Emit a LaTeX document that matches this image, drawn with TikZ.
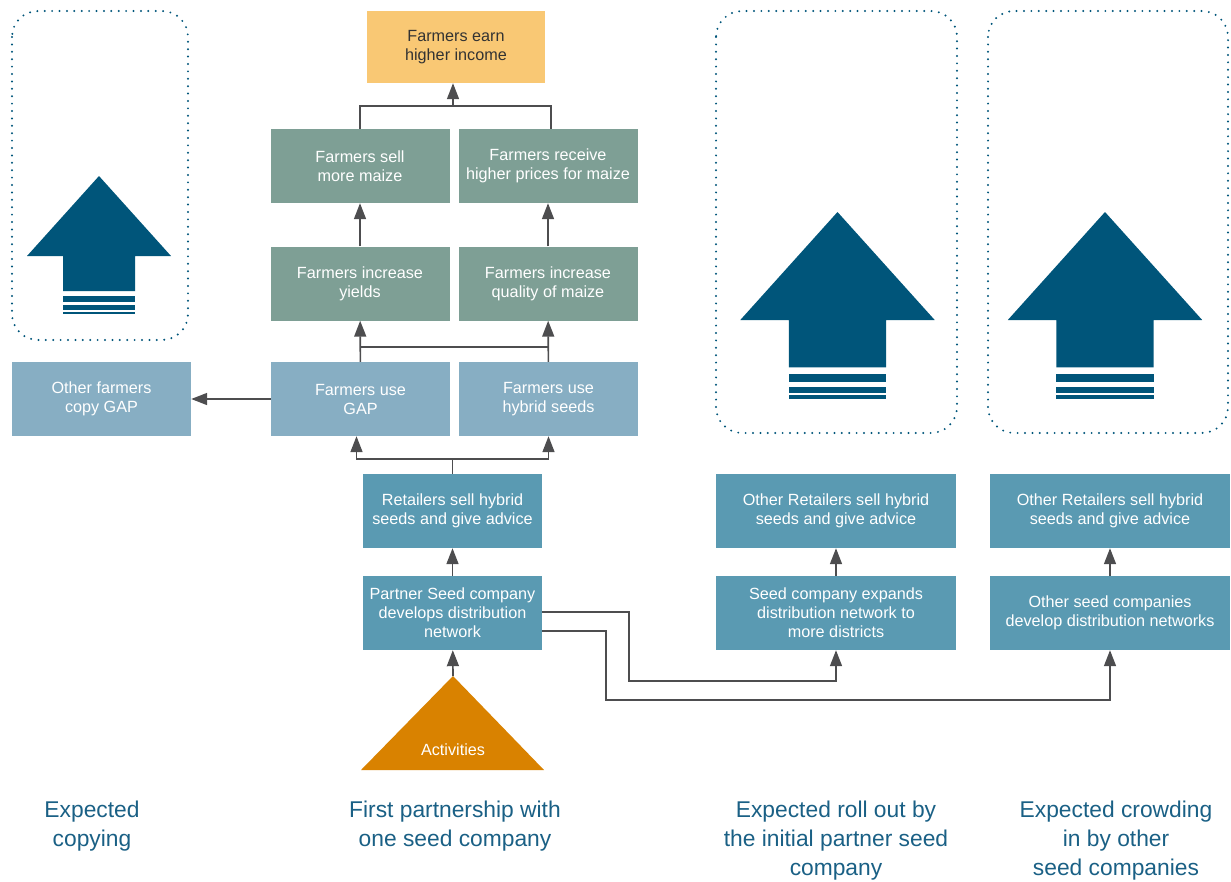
\documentclass[tikz,border=0pt]{standalone}
\usepackage{fontspec}
\setmainfont{Liberation Sans}
\usetikzlibrary{arrows.meta}

\definecolor{incomeorange}{HTML}{F9C874}
\definecolor{resultgreen}{HTML}{7E9F95}
\definecolor{practiceblue}{HTML}{87AEC3}
\definecolor{seedblue}{HTML}{5A9AB2}
\definecolor{activorange}{HTML}{D98200}
\definecolor{bigblue}{HTML}{00557A}
\definecolor{captionblue}{HTML}{1A6085}
\definecolor{linkgray}{HTML}{4D4D4F}

\newcommand{\bigarrow}[3]{ 

% #1 = centre x, #2 = tip y, #3 = size
\begin{scope}[shift={(#1,#2)},scale=#3]
    \fill[bigblue] (0,0) -- (72,80) -- (36,80) -- (36,115) -- (-36,115) -- (-36,80) -- (-72,80) -- cycle;
    \foreach \a/\b in {119.7/125.7,129.3/134.3,135.7/138.3}{
        \fill[bigblue] (-36,\a) rectangle (36,\b);
    }
\end{scope}

}

\newcommand{\scenebox}[4]{ 
\draw[dotframe] (#1,#2) rectangle (#3,#4);
}

\begin{document}
\begin{tikzpicture}[x=1pt,y=-1pt,
    box/.style={minimum width=179pt,minimum height=74pt,inner sep=2pt,align=center,
        text=white,font=\fontsize{16.2}{19}\selectfont},
    incomebox/.style={box,fill=incomeorange,text=black!80,minimum width=178pt,minimum height=72pt},
    resultbox/.style={box,fill=resultgreen},
    practicebox/.style={box,fill=practiceblue},
    seedbox/.style={box,fill=seedblue},
    widebox/.style={seedbox,minimum width=240pt},
    caption/.style={align=center,text=captionblue,font=\fontsize{22.8}{29}\selectfont},
    dotframe/.style={draw=bigblue,line width=2.2pt,line cap=round,
        dash pattern=on 0pt off 7.4pt,rounded corners=26pt},
    link/.style={draw=linkgray,line width=1.6pt},
    arr/.style={link,-{Triangle[width=12pt,length=16pt]}}]

\useasboundingbox (0,0) rectangle (1231,881);

\scenebox{12}{11}{188}{340}
\scenebox{716}{11}{957}{433}
\scenebox{988}{11}{1228}{433}

\bigarrow{99}{176}{1}
\bigarrow{837.5}{212}{1.35}
\bigarrow{1105}{212}{1.35}

\node[incomebox] (income) at (456,47) {Farmers earn\\higher income};

\node[resultbox] (sell) at (360,166) {Farmers sell\\more maize};
\node[resultbox] (prices) at (548,166) {Farmers receive\\higher prices for maize};
\node[resultbox] (yields) at (360,283.5) {Farmers increase\\yields};
\node[resultbox] (quality) at (548,283.5) {Farmers increase\\quality of maize};

\node[practicebox] (gap) at (360.5,399) {Farmers use\\GAP};
\node[practicebox] (hybrid) at (548.5,399) {Farmers use\\hybrid seeds};
\node[practicebox] (copy) at (101.5,399) {Other farmers\\copy GAP};

\node[seedbox] (retail) at (452.5,511) {Retailers sell hybrid\\seeds and give advice};
\node[seedbox] (partner) at (452.5,613) {Partner Seed company\\develops distribution\\network};

\node[widebox] (rollretail) at (836,511) {Other Retailers sell hybrid\\seeds and give advice};
\node[widebox] (expand) at (836,613) {Seed company expands\\distribution network to\\more districts};
\node[widebox] (crowdretail) at (1110,511) {Other Retailers sell hybrid\\seeds and give advice};
\node[widebox] (others) at (1110,613) {Other seed companies\\develop distribution networks};

\fill[activorange] (361,770) -- (453,676) -- (544,770) -- cycle;
\coordinate (apex) at (453,676);
\node[box,minimum width=0pt,minimum height=0pt] (activities) at (453,750) {Activities};

\node[caption] (copycap) at (92,826.5) {Expected\\copying};
\node[caption] (firstcap) at (455,826.5) {First partnership with\\one seed company};
\node[caption] (rollcap) at (836,841) {Expected roll out by\\the initial partner seed\\company};
\node[caption] (crowdcap) at (1116,841) {Expected crowding\\in by other\\seed companies};

% links
\coordinate (join1) at (453,106);
\draw[link] (sell.north) |- (join1) -| ([xshift=3pt]prices.north);
\draw[arr] (join1) -- (join1 |- income.south);

\draw[arr] (yields) -- (sell);
\draw[arr] (quality) -- (prices);

\draw[arr] (gap) -- (yields);
\draw[arr] (hybrid) -- (quality);
\draw[link] ([yshift=15pt]gap.north) -- ([yshift=15pt]hybrid.north);

\draw[link] (retail.north) -- ++(0,-15) coordinate (join2);
\draw[arr] (join2) -| ([xshift=-4pt]gap.south);
\draw[arr] (join2) -| (hybrid.south);

\draw[arr] (gap) -- (copy);
\draw[arr] (partner) -- (retail);
\draw[arr] (apex) -- (partner);

\coordinate (bend1) at (629,681);
\coordinate (bend2) at (606,700);
\draw[arr] ([yshift=1pt]partner.east) -| (bend1) -| (expand.south);
\draw[arr] ([yshift=-18pt]partner.east) -| (bend2) -| (others.south);

\draw[arr] (expand) -- (rollretail);
\draw[arr] (others) -- (crowdretail);

\end{tikzpicture}
\end{document}
